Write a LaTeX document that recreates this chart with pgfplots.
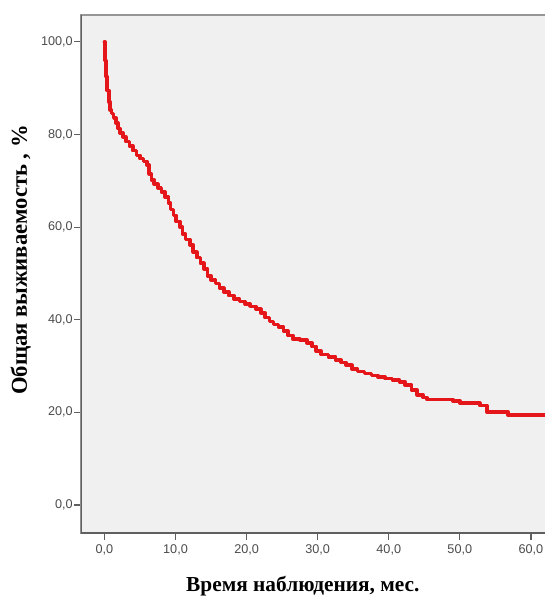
\documentclass[border=0pt]{standalone}
\usepackage{fontspec}
\setmainfont{Liberation Serif}
\newfontfamily\arialfont{Liberation Sans}
\usepackage{pgfplots}
\usepackage{pgfplotstable}
\pgfplotsset{compat=1.18}

\definecolor{kmred}{RGB}{228,22,26}
\definecolor{plotbg}{RGB}{240,240,240}
\definecolor{framec}{RGB}{95,95,95}
\definecolor{topc}{RGB}{150,150,150}
\definecolor{tickc}{RGB}{75,75,75}

% Kaplan-Meier: время (мес.), выживаемость (%)
\pgfplotstableread{
t     s
0     100
0.1   96
0.2   92.5
0.4   89.5
0.6   87
0.8   85.3
1.0   84.5
1.3   83.6
1.6   82.5
1.9   81.3
2.2   80.3
2.6   79.5
3.0   78.5
3.5   77.5
4.0   76.5
4.5   75.5
5.0   74.8
5.5   74.2
6.0   73.4
6.3   71.5
6.6   70.2
7.0   69.3
7.5   68.5
8.0   67.6
8.5   66.5
9.0   65.2
9.3   63.8
9.7   62.5
10.1  61.2
10.6  60.0
11.0  58.5
11.4  57.3
12.0  56.2
12.5  54.6
13.0  53.4
13.5  52.2
14.0  51.0
14.5  49.5
15.0  48.6
15.6  47.8
16.2  46.8
16.8  46.0
17.5  45.2
18.2  44.5
19.0  43.9
19.8  43.4
20.5  42.9
21.3  42.3
22.0  41.5
22.6  40.5
23.2  39.6
23.8  39.0
24.5  38.4
25.2  37.6
25.8  36.6
26.5  35.8
27.5  35.6
28.5  35.0
29.2  34.2
29.8  33.2
30.5  32.5
31.5  32.0
32.5  31.3
33.3  30.8
34.0  30.2
34.8  29.4
35.6  28.8
36.6  28.4
37.6  28.0
38.5  27.6
39.5  27.3
40.5  27.0
41.5  26.6
42.3  25.9
43.2  24.8
44.0  23.8
44.8  23.2
45.4  22.8
49.0  22.5
50.0  22.0
52.8  21.5
53.8  20.1
56.8  19.4
63.0  19.4
}\kmdata

\begin{document}
\begin{tikzpicture}
\useasboundingbox (-60.75pt,-47.25pt) rectangle (347.25pt,399.75pt);
\begin{axis}[
  scale only axis,
  width=353.25pt, height=388.5pt,
  xmin=-3.3, xmax=62.97,
  ymin=-6.05, ymax=105.8,
  axis background/.style={fill=plotbg},
  axis line style={draw=topc, line width=0.8pt},
  xtick={0,10,...,60},
  ytick={0,20,...,100},
  xtick pos=left, ytick pos=left,
  tick align=outside,
  major tick length=5pt,
  tick style={draw=framec, line width=0.9pt},
  /pgf/number format/.cd, fixed, fixed zerofill, precision=1, use comma, assume math mode=true,
  /pgfplots/.cd,
  ticklabel style={font=\arialfont\fontsize{9.5}{11}\selectfont, text=tickc},
  yticklabel style={inner sep=1pt},
  xlabel={Время наблюдения, мес.},
  xlabel style={font=\bfseries\fontsize{16}{18}\selectfont, at={(axis description cs:0.471,-0.112)}, anchor=base},
  ylabel={Общая выживаемость , \%},
  ylabel style={font=\bfseries\fontsize{17}{19}\selectfont, at={(axis description cs:-0.106,0.527)}, anchor=south, inner sep=0pt},
  clip=true,
]
\addplot[const plot, kmred, line width=2.7pt, line join=round, line cap=round] table[x=t, y=s] {\kmdata};
\draw[framec, line width=1.4pt] (rel axis cs:0,1) -- (rel axis cs:0,0) -- (rel axis cs:1,0);
\end{axis}
\end{tikzpicture}
\end{document}
